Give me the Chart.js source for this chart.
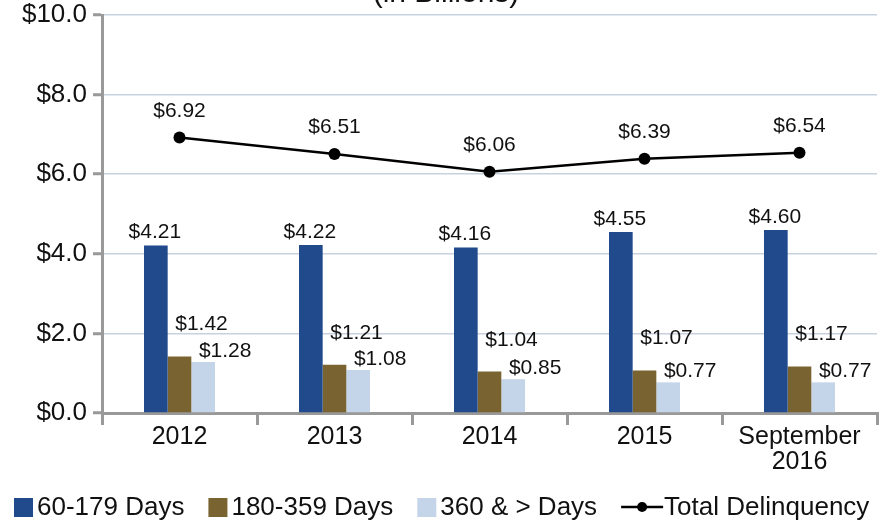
<!DOCTYPE html>
<html>
<head>
<meta charset="utf-8">
<script src="https://cdn.jsdelivr.net/npm/chart.js@4"></script>
<style>
  html, body { margin: 0; padding: 0; background: #fff; overflow: hidden; }
  #wrap { width: 894px; height: 522px; }
</style>
</head>
<body>
<div id="wrap"><canvas id="delinqChart" width="894" height="522"></canvas></div>
<script>
// values (in billions of dollars)
const categories = ["2012", "2013", "2014", "2015", ["September", "2016"]];
const days60 = [4.21, 4.22, 4.16, 4.55, 4.60];
const days180 = [1.42, 1.21, 1.04, 1.07, 1.17];
const days360 = [1.28, 1.08, 0.85, 0.77, 0.77];
const totalDelinquency = [6.92, 6.51, 6.06, 6.39, 6.54];
const yTicks = [0, 2, 4, 6, 8, 10];

const FONT = "'Liberation Sans', Arial, Helvetica, sans-serif";
Chart.defaults.font.family = FONT;
Chart.defaults.color = "#111";

const money = v => "$" + v.toFixed(2);

/* etiquetas de datos */
const valueLabels = {
    id: "valueLabels",
    afterDatasetsDraw(chart) {
        const ctx = chart.ctx;
        ctx.save();
        ctx.font = "21px " + FONT;
        ctx.fillStyle = "#111";
        ctx.textAlign = "center";
        ctx.textBaseline = "alphabetic";
        chart.data.datasets.forEach((ds, i) => {
            const meta = chart.getDatasetMeta(i);
            meta.data.forEach((el, j) => {
                ctx.fillText(money(ds.data[j]), el.x + ds.labelDx, el.y - ds.labelDy);
            });
        });
        ctx.restore();
    }
};

/* titulo cortado arriba */
const topTitle = {
    id: "topTitle",
    afterDraw(chart) {
        const ctx = chart.ctx;
        ctx.save();
        ctx.font = "30px " + FONT;
        ctx.fillStyle = "#111";
        ctx.textAlign = "center";
        ctx.textBaseline = "alphabetic";
        ctx.fillText("(in Billions)", 446, 2);
        ctx.restore();
    }
};

/* leyenda propia */
const bottomLegend = {
    id: "bottomLegend",
    afterDraw(chart) {
        const ctx = chart.ctx;
        ctx.save();
        ctx.font = "26px " + FONT;
        ctx.fillStyle = "#111";
        ctx.textBaseline = "middle";
        ctx.textAlign = "left";
        const cy = 507;
        let x = 14;
        chart.data.datasets.forEach(ds => {
            if (ds.type === "line") {
                ctx.strokeStyle = ds.borderColor;
                ctx.lineWidth = 2.5;
                ctx.beginPath();
                ctx.moveTo(x, cy);
                ctx.lineTo(x + 42, cy);
                ctx.stroke();
                ctx.fillStyle = ds.borderColor;
                ctx.beginPath();
                ctx.arc(x + 21, cy, 5, 0, Math.PI * 2);
                ctx.fill();
                x += 43;
            } else {
                ctx.fillStyle = ds.backgroundColor;
                ctx.fillRect(x, cy - 9, 19, 19);
                x += 23;
            }
            ctx.fillStyle = "#111";
            ctx.fillText(ds.label, x, cy + 1);
            x += ctx.measureText(ds.label).width + 24;
        });
        ctx.restore();
    }
};

new Chart(document.getElementById("delinqChart"), {
    type: "bar",
    data: {
        labels: categories,
        datasets: [
            {label: "60-179 Days", data: days60, backgroundColor: "#204a8c", order: 1, labelDx: -1, labelDy: 7},
            {label: "180-359 Days", data: days180, backgroundColor: "#796431", order: 1, labelDx: 22, labelDy: 26},
            {label: "360 & > Days", data: days360, backgroundColor: "#c4d5e9", order: 1, labelDx: 22, labelDy: 5},
            {type: "line", label: "Total Delinquency", data: totalDelinquency, borderColor: "#000",
             backgroundColor: "#000", borderWidth: 2.5, pointRadius: 6, pointBackgroundColor: "#000",
             pointBorderWidth: 0, tension: 0, order: 0, labelDx: 0, labelDy: 21}
        ]
    },
    options: {
        responsive: false,
        devicePixelRatio: 1,
        animation: false,
        layout: {padding: {top: 15, right: 17, left: 0, bottom: 0}},
        datasets: {bar: {categoryPercentage: 0.458, barPercentage: 1}},
        plugins: {
            legend: {display: false},
            tooltip: {enabled: false},
            title: {display: false}
        },
        scales: {
            x: {
                stacked: false,
                grid: {drawOnChartArea: false, drawTicks: true, tickLength: 12, tickColor: "#999", lineWidth: 3},
                border: {color: "#999", width: 3},
                ticks: {font: {size: 25, lineHeight: 1.0}, color: "#111", padding: 0, maxRotation: 0, autoSkip: false},
                afterFit: s => { s.height = 109; s.paddingLeft = 0; s.paddingRight = 0; }
            },
            y: {
                min: 0,
                max: 10,
                afterBuildTicks: s => { s.ticks = yTicks.map(v => ({value: v})); },
                grid: {color: "#c8d2de", lineWidth: 1.5, tickLength: 9, tickColor: "#999", tickWidth: 3},
                border: {color: "#999", width: 3},
                ticks: {font: {size: 26}, color: "#111", padding: 6, callback: v => "$" + v.toFixed(1)},
                afterFit: s => { s.width = 102; s.paddingTop = 0; s.paddingBottom = 0; }
            }
        }
    },
    plugins: [valueLabels, topTitle, bottomLegend]
});
</script>
</body>
</html>
